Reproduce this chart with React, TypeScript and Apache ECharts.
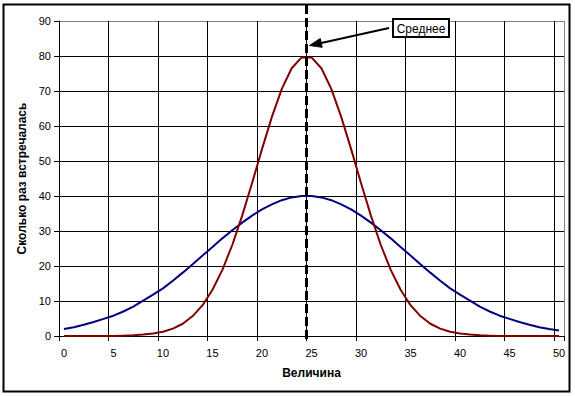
import React, { useEffect, useRef } from "react";
import * as echarts from "echarts";

const categories = [
  "0", "1", "2", "3", "4", "5", "6", "7", "8", "9",
  "10", "11", "12", "13", "14", "15", "16", "17", "18", "19",
  "20", "21", "22", "23", "24", "25", "26", "27", "28", "29",
  "30", "31", "32", "33", "34", "35", "36", "37", "38", "39",
  "40", "41", "42", "43", "44", "45", "46", "47", "48", "49", "50",
];

// Wide distribution (blue)
const wideValues = [
  2.0, 2.5, 3.2, 4.0, 4.9, 5.8, 7.0, 8.4, 10.1, 11.8,
  13.6, 15.8, 18.1, 20.5, 23.0, 25.4, 27.9, 30.2, 32.4, 34.4,
  36.2, 37.6, 38.8, 39.6, 40.0, 40.0, 39.6, 38.8, 37.6, 36.2,
  34.4, 32.4, 30.2, 27.9, 25.4, 23.0, 20.5, 18.1, 15.8, 13.6,
  11.8, 10.1, 8.4, 7.0, 5.8, 4.9, 4.0, 3.2, 2.5, 2.0, 1.6,
];

// Narrow distribution (red)
const narrowValues = [
  0, 0, 0, 0, 0, 0, 0.1, 0.2, 0.4, 0.7,
  1.2, 2.1, 3.5, 5.7, 8.8, 13.2, 18.9, 26.0, 34.4, 43.7,
  53.4, 62.6, 70.6, 76.5, 79.6, 79.6, 76.5, 70.6, 62.6, 53.4,
  43.7, 34.4, 26.0, 18.9, 13.2, 8.8, 5.7, 3.5, 2.1, 1.2,
  0.7, 0.4, 0.2, 0.1, 0, 0, 0, 0, 0, 0, 0,
];

const yMin = 0;
const yMax = 90;
const yStep = 10;
const xLabelEvery = 5;

const meanLeftCategory = "24";
const meanRightCategory = "25";
const arrowTipValue = 83;
const annotationText = "Среднее";
const xTitle = "Величина";
const yTitle = "Сколько раз встречалась";

export default function App() {
  const ref = useRef<HTMLDivElement>(null);

  useEffect(() => {
    const el = ref.current!;
    const chart = echarts.init(el, null, { renderer: "svg" });
    const font = "'Liberation Sans', Arial, sans-serif";

    const xLineCount = Math.floor((categories.length - 1) / xLabelEvery) + 2;
    const xLineColors = Array.from({ length: xLineCount }, (_, i) =>
      i === xLineCount - 1 ? "#808080" : "#000000"
    );
    const yLineCount = (yMax - yMin) / yStep + 1;
    const yLineColors = Array.from({ length: yLineCount }, (_, i) =>
      i === yLineCount - 1 ? "#808080" : "#000000"
    );

    chart.setOption({
      animation: false,
      backgroundColor: "#ffffff",
      grid: { left: 59, right: 11, top: 21, bottom: 60 },
      xAxis: {
        type: "category",
        data: categories,
        boundaryGap: true,
        axisLine: { lineStyle: { color: "#000", width: 1 } },
        axisTick: { show: true, interval: xLabelEvery - 1, length: 5, lineStyle: { color: "#000" } },
        axisLabel: {
          interval: xLabelEvery - 1,
          margin: 11,
          color: "#000",
          fontSize: 11,
          fontFamily: font,
        },
        splitLine: {
          show: true,
          interval: xLabelEvery - 1,
          lineStyle: { color: xLineColors, width: 1 },
        },
        name: xTitle,
        nameLocation: "middle",
        nameGap: 31,
        nameTextStyle: { fontWeight: "bold", fontSize: 12, color: "#000", fontFamily: font },
      },
      yAxis: {
        type: "value",
        min: yMin,
        max: yMax,
        interval: yStep,
        axisLine: { show: true, lineStyle: { color: "#000", width: 1 } },
        axisTick: { show: true, length: 5, lineStyle: { color: "#000" } },
        axisLabel: { margin: 8, color: "#000", fontSize: 11, fontFamily: font },
        splitLine: { show: true, lineStyle: { color: yLineColors, width: 1 } },
        name: yTitle,
        nameLocation: "middle",
        nameGap: 31,
        nameRotate: 90,
        nameTextStyle: { fontWeight: "bold", fontSize: 12, color: "#000", fontFamily: font },
      },
      series: [
        {
          type: "line",
          data: wideValues,
          symbol: "none",
          lineStyle: { color: "#000080", width: 2 },
          itemStyle: { color: "#000080" },
          z: 3,
        },
        {
          type: "line",
          data: narrowValues,
          symbol: "none",
          lineStyle: { color: "#800000", width: 2 },
          itemStyle: { color: "#800000" },
          z: 4,
        },
      ],
    });

    const xa = chart.convertToPixel({ xAxisIndex: 0 }, meanLeftCategory) as number;
    const xb = chart.convertToPixel({ xAxisIndex: 0 }, meanRightCategory) as number;
    const meanX = Math.round((xa + xb) / 2) - 0.5;
    const y0 = chart.convertToPixel({ yAxisIndex: 0 }, yMin) as number;
    const tipY = chart.convertToPixel({ yAxisIndex: 0 }, arrowTipValue) as number;

    const boxX = 393;
    const boxY = 19;
    const boxW = 56;
    const boxH = 18;
    const tailX = boxX - 4;
    const tailY = boxY + 9;
    const tipX = meanX + 3;
    const dx = tipX - tailX;
    const dy = tipY - tailY;
    const len = Math.sqrt(dx * dx + dy * dy);
    const ux = dx / len;
    const uy = dy / len;
    const headLen = 12;
    const headHalf = 4.5;
    const bx = tipX - ux * headLen;
    const by = tipY - uy * headLen;
    const px = -uy;
    const py = ux;

    chart.setOption({
      graphic: [
        {
          type: "rect",
          silent: true,
          z: 200,
          shape: { x: 3.5, y: 4.5, width: 566, height: 387 },
          style: { fill: "none", stroke: "#000", lineWidth: 2 },
        },
        {
          type: "line",
          silent: true,
          z: 150,
          shape: { x1: meanX, y1: 5, x2: meanX, y2: y0 + 5 },
          style: { stroke: "#000", lineWidth: 3, lineDash: [9, 4] },
        },
        {
          type: "line",
          silent: true,
          z: 160,
          shape: { x1: tailX, y1: tailY, x2: bx, y2: by },
          style: { stroke: "#000", lineWidth: 2 },
        },
        {
          type: "polygon",
          silent: true,
          z: 160,
          shape: {
            points: [
              [tipX, tipY],
              [bx + px * headHalf, by + py * headHalf],
              [bx - px * headHalf, by - py * headHalf],
            ],
          },
          style: { fill: "#000", stroke: "#000", lineWidth: 1 },
        },
        {
          type: "rect",
          silent: true,
          z: 170,
          shape: { x: boxX, y: boxY, width: boxW, height: boxH },
          style: { fill: "#fff", stroke: "#000", lineWidth: 2 },
        },
        {
          type: "text",
          silent: true,
          z: 171,
          x: boxX + boxW / 2,
          y: boxY + boxH / 2 + 0.5,
          style: {
            text: annotationText,
            fill: "#000",
            fontSize: 12,
            fontFamily: font,
            align: "center",
            verticalAlign: "middle",
          },
        },
      ],
    });

    return () => chart.dispose();
  }, []);

  return (
    <div
      ref={ref}
      style={{ position: "fixed", left: 0, top: 0, width: 575, height: 396, background: "#fff" }}
    />
  );
}
